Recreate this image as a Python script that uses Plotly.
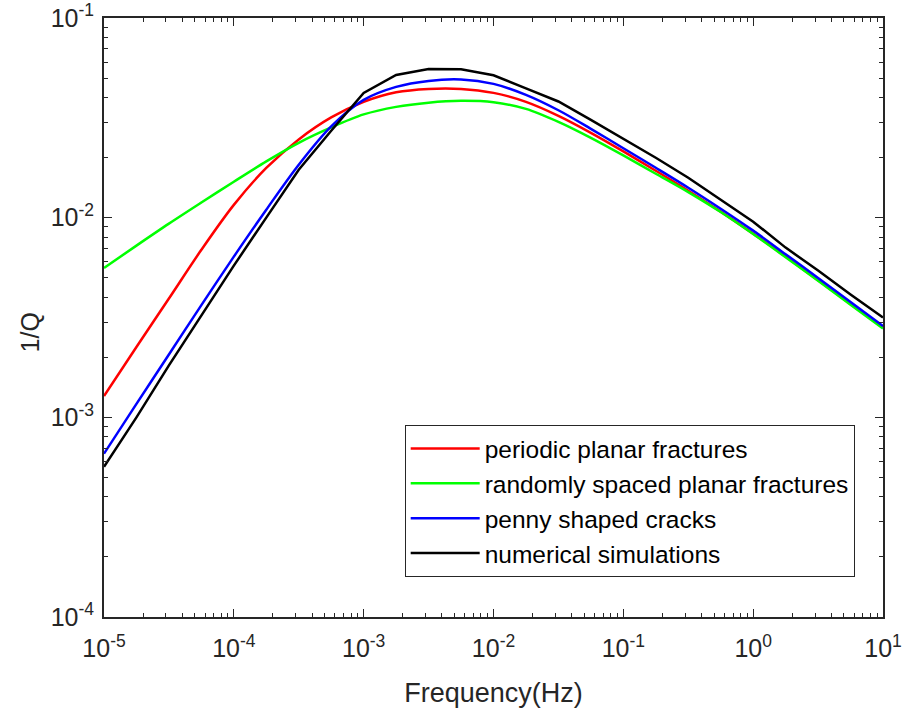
import plotly.graph_objects as go

# Frequency (Hz)
freq = [1e-5, 1.778e-5, 3.162e-5, 5.623e-5,
        1e-4, 1.778e-4, 3.162e-4, 5.623e-4,
        1e-3, 1.778e-3, 3.162e-3, 5.623e-3,
        1e-2, 1.778e-2, 3.162e-2, 5.623e-2,
        1e-1, 1.778e-1, 3.162e-1, 5.623e-1,
        1.0, 1.778, 3.162, 5.623, 10.0]

periodic = [1.279e-3, 2.249e-3, 3.936e-3, 6.902e-3,
            1.159e-2, 1.774e-2, 2.466e-2, 3.177e-2,
            3.802e-2, 4.246e-2, 4.416e-2, 4.416e-2,
            4.217e-2, 3.802e-2, 3.236e-2, 2.661e-2,
            2.148e-2, 1.718e-2, 1.365e-2, 1.072e-2,
            8.318e-3, 6.383e-3, 4.864e-3, 3.698e-3, 2.818e-3]

random_spaced = [5.598e-3, 7.244e-3, 9.333e-3, 1.191e-2,
                 1.514e-2, 1.914e-2, 2.371e-2, 2.831e-2,
                 3.289e-2, 3.589e-2, 3.767e-2, 3.846e-2,
                 3.784e-2, 3.508e-2, 3.020e-2, 2.512e-2,
                 2.051e-2, 1.660e-2, 1.343e-2, 1.067e-2,
                 8.279e-3, 6.339e-3, 4.831e-3, 3.664e-3, 2.786e-3]

penny = [6.577e-4, 1.167e-3, 2.065e-3, 3.648e-3,
         6.383e-3, 1.096e-2, 1.841e-2, 2.864e-2,
         3.890e-2, 4.519e-2, 4.842e-2, 4.920e-2,
         4.677e-2, 4.121e-2, 3.451e-2, 2.786e-2,
         2.228e-2, 1.778e-2, 1.413e-2, 1.109e-2,
         8.610e-3, 6.561e-3, 4.989e-3, 3.784e-3, 2.864e-3]

numerical = [5.649e-4, 1.0e-3, 1.820e-3, 3.236e-3,
             5.754e-3, 1.0e-2, 1.738e-2, 2.723e-2,
             4.217e-2, 5.188e-2, 5.559e-2, 5.534e-2,
             5.164e-2, 4.446e-2, 3.819e-2, 3.090e-2,
             2.483e-2, 1.995e-2, 1.585e-2, 1.230e-2,
             9.550e-3, 7.079e-3, 5.433e-3, 4.121e-3, 3.162e-3]

names = ["periodic planar fractures", "randomly spaced planar fractures",
         "penny shaped cracks", "numerical simulations"]
colors = ["#FF0000", "#00FF00", "#0000FF", "#000000"]

x_tickvals = [1e-5, 1e-4, 1e-3, 1e-2, 1e-1, 1, 10]
x_ticktext = ["10<sup>-5</sup>", "10<sup>-4</sup>", "10<sup>-3</sup>", "10<sup>-2</sup>",
              "10<sup>-1</sup>", "10<sup>0</sup>", "10<sup>1</sup>"]
y_tickvals = [1e-4, 1e-3, 1e-2, 1e-1]
y_ticktext = ["10<sup>-4</sup>", "10<sup>-3</sup>", "10<sup>-2</sup>", "10<sup>-1</sup>"]

x_minor = [m * 10.0 ** e for e in range(-5, 1) for m in range(2, 10)]
y_minor = [m * 10.0 ** e for e in range(-4, -1) for m in range(2, 10)]

fig = go.Figure()
series = [periodic, random_spaced, penny, numerical]
for i, (ys, nm, c) in enumerate(zip(series, names, colors)):
    if i == 3:
        ln = dict(color=c, width=2.5, shape="linear")
    else:
        ln = dict(color=c, width=2.5, shape="spline", smoothing=0.9)
    fig.add_trace(go.Scatter(x=freq, y=ys, mode="lines", name=nm, line=ln))

axcol = "#262626"
common = dict(type="log", showgrid=False, zeroline=False, showline=True,
              linecolor=axcol, linewidth=2, mirror="allticks",
              ticks="inside", ticklen=8, tickwidth=1.3, tickcolor=axcol,
              tickfont=dict(size=25, color=axcol), automargin=False)

fig.update_layout(
    width=906, height=715,
    margin=dict(l=104, r=23, t=18, b=98),
    plot_bgcolor="white", paper_bgcolor="white",
    font=dict(family="Liberation Sans, Arial, sans-serif", size=22, color=axcol),
    showlegend=True,
    legend=dict(x=0.386, y=0.3205, xanchor="left", yanchor="top",
                bordercolor=axcol, borderwidth=1, bgcolor="white",
                font=dict(size=24.5, color="#000000"), itemwidth=69,
                tracegroupgap=0),
    annotations=[dict(text="1/Q", xref="paper", yref="paper",
                      x=-0.095, y=0.475, xanchor="center", yanchor="middle",
                      textangle=-90, showarrow=False,
                      font=dict(size=25, color=axcol))],
)
fig.update_xaxes(**common, range=[-5, 1], tickmode="array",
                 tickvals=x_tickvals, ticktext=x_ticktext, ticklabelstandoff=8,
                 minor=dict(ticks="inside", ticklen=4, tickwidth=1.3, tickcolor=axcol,
                            showgrid=False, tickmode="array", tickvals=x_minor),
                 title=dict(text="Frequency(Hz)", standoff=22,
                            font=dict(size=27, color=axcol)))
fig.update_yaxes(**common, range=[-4, -1], tickmode="array",
                 tickvals=y_tickvals, ticktext=y_ticktext, ticklabelstandoff=3,
                 minor=dict(ticks="inside", ticklen=4, tickwidth=1.3, tickcolor=axcol,
                            showgrid=False, tickmode="array", tickvals=y_minor))

fig.write_html("out.html")
